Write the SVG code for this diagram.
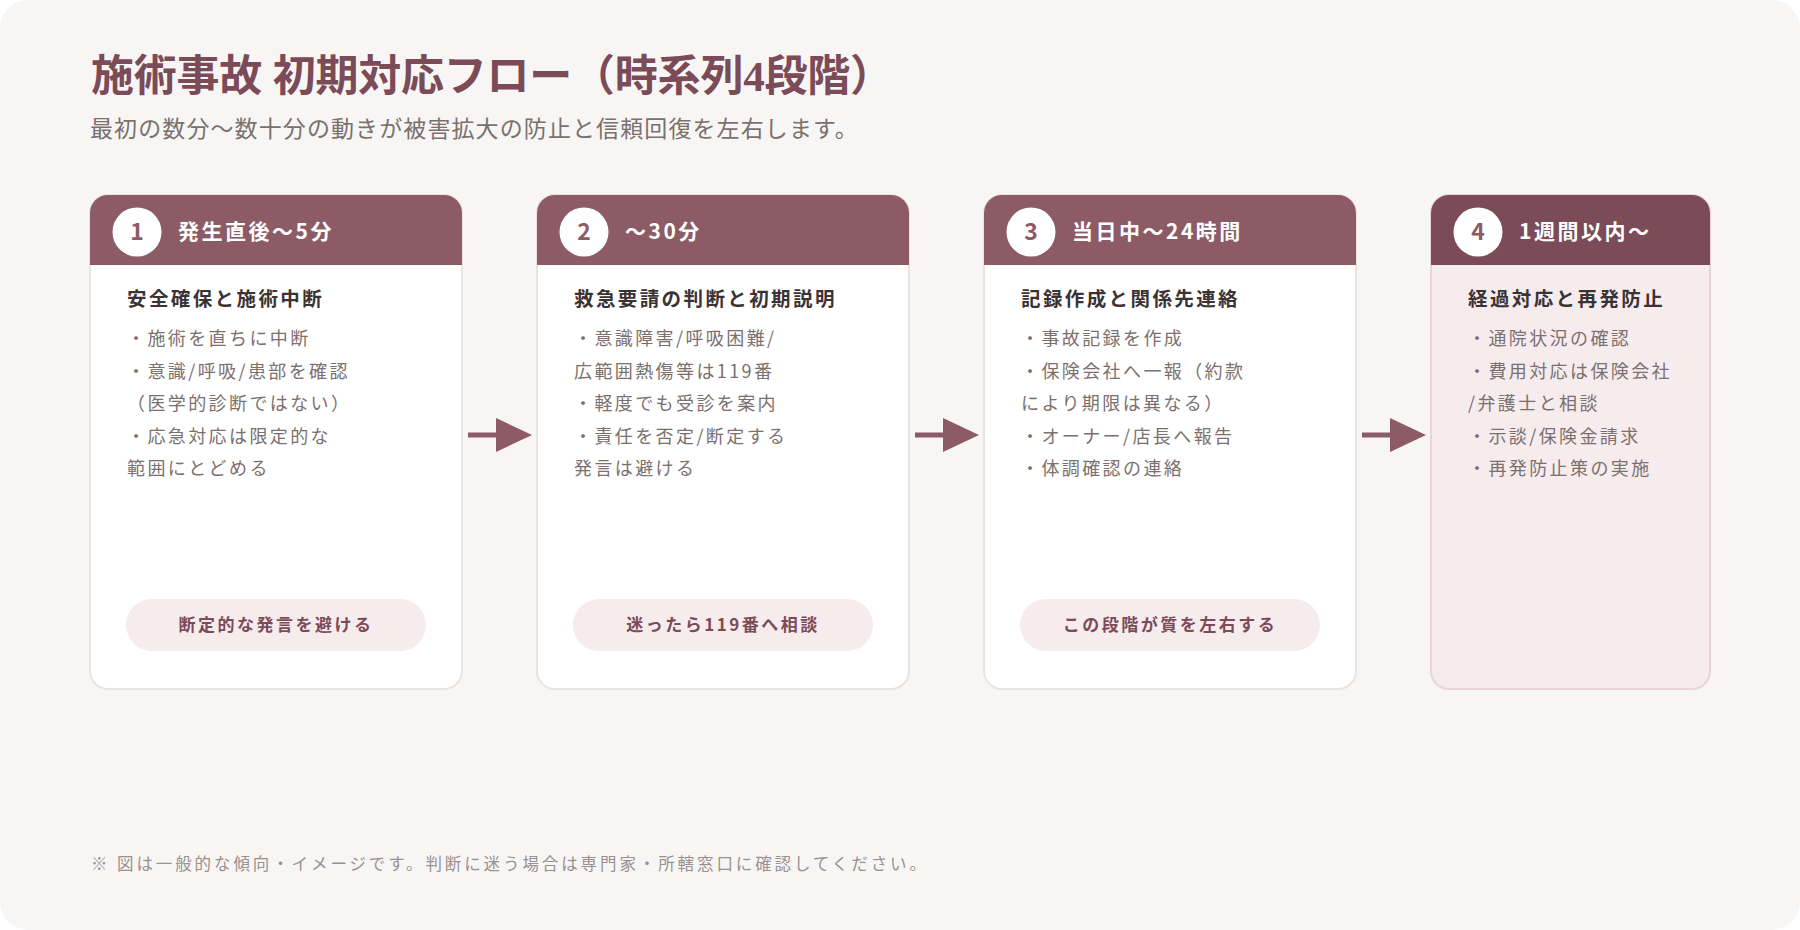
<svg xmlns="http://www.w3.org/2000/svg" width="1800" height="930" viewBox="0 0 1800 930">
<style>
.jp{font-family:"Noto Sans CJK JP","Noto Sans",sans-serif}
.title{font-family:"Liberation Serif","Noto Sans CJK JP",serif;font-size:43px;font-weight:700;fill:#7b4b58}
.sub{font-size:23px;fill:#7a706d;letter-spacing:1.1px}
.foot{font-size:16.5px;fill:#9a908d;letter-spacing:2.9px}
.card{fill:#ffffff;stroke:#ebe3de;stroke-width:2}
.card4{fill:#f6ecee;stroke:#e9d4d9;stroke-width:2}
.hdr{fill:#8c5b66}
.hdr4{fill:#7b4b58}
.circ{fill:#ffffff}
.num{font-size:23px;font-weight:700;fill:#8c5b66;text-anchor:middle}
.htxt{font-size:21px;font-weight:700;fill:#ffffff;letter-spacing:2.5px}
.head{font-size:19.5px;font-weight:700;fill:#3b3333;letter-spacing:2.4px}
.body{font-size:18px;fill:#7b706e;letter-spacing:2.4px}
.pill{fill:#f6ecee}
.ptxt{font-size:17px;font-weight:700;fill:#7b4b58;letter-spacing:2.5px;text-anchor:middle}
.arr{fill:#8c5b66}
</style>
<rect x="0" y="0" width="1800" height="930" fill="#ffffff"/>
<rect x="0" y="0" width="1800" height="930" rx="28" fill="#f8f6f4"/>

<g id="header-text">
<text class="title" x="91" y="91" textLength="802" lengthAdjust="spacing">施術事故 初期対応フロー（時系列4段階）</text>
<text class="jp sub" x="90" y="137">最初の数分〜数十分の動きが被害拡大の防止と信頼回復を左右します。</text>
</g>

<g id="step1">
<rect class="card" x="90" y="195" width="372" height="494" rx="18"/>
<path class="hdr" d="M90,265 V213 A18,18 0 0 1 108,195 H444 A18,18 0 0 1 462,213 V265 Z"/>
<circle class="circ" cx="137" cy="232" r="24.5"/>
<text class="jp num" x="137" y="240">1</text>
<text class="jp htxt" x="178" y="239">発生直後〜5分</text>
<text class="jp head" x="127" y="306">安全確保と施術中断</text>
<text class="jp body" x="127" y="345">・施術を直ちに中断</text>
<text class="jp body" x="127" y="378">・意識/呼吸/患部を確認</text>
<text class="jp body" x="127" y="410">（医学的診断ではない）</text>
<text class="jp body" x="127" y="443">・応急対応は限定的な</text>
<text class="jp body" x="127" y="475">範囲にとどめる</text>
<rect class="pill" x="126" y="599" width="300" height="52" rx="26"/>
<text class="jp ptxt" x="276" y="631">断定的な発言を避ける</text>
</g>

<g id="step2">
<rect class="card" x="537" y="195" width="372" height="494" rx="18"/>
<path class="hdr" d="M537,265 V213 A18,18 0 0 1 555,195 H891 A18,18 0 0 1 909,213 V265 Z"/>
<circle class="circ" cx="584" cy="232" r="24.5"/>
<text class="jp num" x="584" y="240">2</text>
<text class="jp htxt" x="625" y="239">〜30分</text>
<text class="jp head" x="574" y="306">救急要請の判断と初期説明</text>
<text class="jp body" x="574" y="345">・意識障害/呼吸困難/</text>
<text class="jp body" x="574" y="378">広範囲熱傷等は119番</text>
<text class="jp body" x="574" y="410">・軽度でも受診を案内</text>
<text class="jp body" x="574" y="443">・責任を否定/断定する</text>
<text class="jp body" x="574" y="475">発言は避ける</text>
<rect class="pill" x="573" y="599" width="300" height="52" rx="26"/>
<text class="jp ptxt" x="723" y="631">迷ったら119番へ相談</text>
</g>

<g id="step3">
<rect class="card" x="984" y="195" width="372" height="494" rx="18"/>
<path class="hdr" d="M984,265 V213 A18,18 0 0 1 1002,195 H1338 A18,18 0 0 1 1356,213 V265 Z"/>
<circle class="circ" cx="1031" cy="232" r="24.5"/>
<text class="jp num" x="1031" y="240">3</text>
<text class="jp htxt" x="1072" y="239">当日中〜24時間</text>
<text class="jp head" x="1021" y="306">記録作成と関係先連絡</text>
<text class="jp body" x="1021" y="345">・事故記録を作成</text>
<text class="jp body" x="1021" y="378">・保険会社へ一報（約款</text>
<text class="jp body" x="1021" y="410">により期限は異なる）</text>
<text class="jp body" x="1021" y="443">・オーナー/店長へ報告</text>
<text class="jp body" x="1021" y="475">・体調確認の連絡</text>
<rect class="pill" x="1020" y="599" width="300" height="52" rx="26"/>
<text class="jp ptxt" x="1170" y="631">この段階が質を左右する</text>
</g>

<g id="step4">
<rect class="card4" x="1431" y="195" width="279" height="494" rx="18"/>
<path class="hdr4" d="M1431,265 V213 A18,18 0 0 1 1449,195 H1692 A18,18 0 0 1 1710,213 V265 Z"/>
<circle class="circ" cx="1478" cy="232" r="24.5"/>
<text class="jp num" x="1478" y="240">4</text>
<text class="jp htxt" x="1519" y="239">1週間以内〜</text>
<text class="jp head" x="1468" y="306">経過対応と再発防止</text>
<text class="jp body" x="1468" y="345">・通院状況の確認</text>
<text class="jp body" x="1468" y="378">・費用対応は保険会社</text>
<text class="jp body" x="1468" y="410">/弁護士と相談</text>
<text class="jp body" x="1468" y="443">・示談/保険金請求</text>
<text class="jp body" x="1468" y="475">・再発防止策の実施</text>
</g>

<g id="connectors">
<rect class="arr" x="468" y="432.5" width="30" height="5"/>
<polygon class="arr" points="496,418 532,435 496,452"/>
<rect class="arr" x="915" y="432.5" width="30" height="5"/>
<polygon class="arr" points="943,418 979,435 943,452"/>
<rect class="arr" x="1362" y="432.5" width="30" height="5"/>
<polygon class="arr" points="1390,418 1426,435 1390,452"/>
</g>

<g id="footer">
<text class="jp foot" x="91" y="870">※ 図は一般的な傾向・イメージです。判断に迷う場合は専門家・所轄窓口に確認してください。</text>
</g>
</svg>
